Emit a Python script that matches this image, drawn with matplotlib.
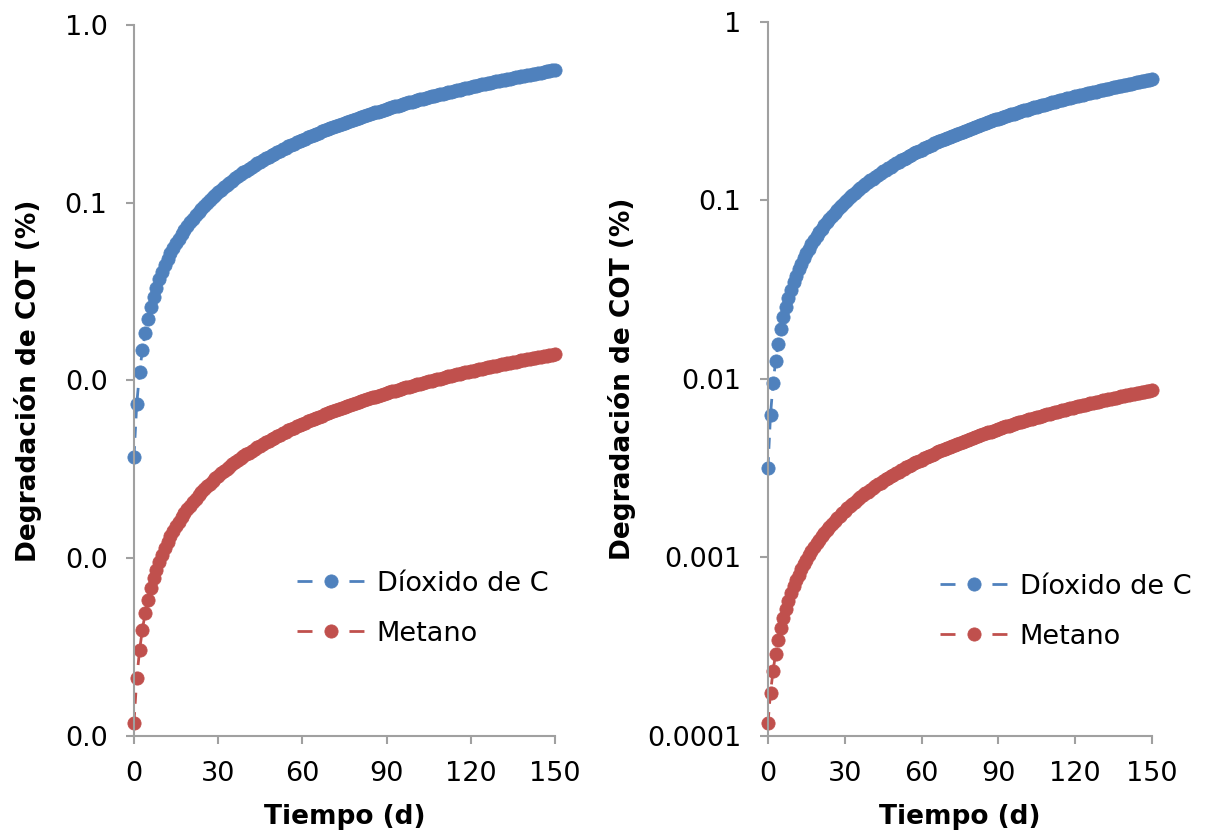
import matplotlib
matplotlib.use("Agg")
import matplotlib.pyplot as plt

plt.rcParams['font.family'] = ['DejaVu Sans']

# Part 1. DATA
# one point per day (% COT)
dias = list(range(0, 151))

# left panel
dioxido_izq = [
    0.0037, 0.0074, 0.0111, 0.0148, 0.0185, 0.0222, 0.0259, 0.0296, 0.0333, 0.0370,
    0.0407, 0.0444, 0.0481, 0.0518, 0.0555, 0.0592, 0.0629, 0.0666, 0.0703, 0.0740,
    0.0777, 0.0814, 0.0851, 0.0888, 0.0925, 0.0962, 0.0999, 0.1036, 0.1073, 0.1110,
    0.1147, 0.1184, 0.1221, 0.1258, 0.1295, 0.1332, 0.1369, 0.1406, 0.1443, 0.1480,
    0.1517, 0.1554, 0.1591, 0.1628, 0.1665, 0.1702, 0.1739, 0.1776, 0.1813, 0.1850,
    0.1887, 0.1924, 0.1961, 0.1998, 0.2035, 0.2072, 0.2109, 0.2146, 0.2183, 0.2220,
    0.2257, 0.2294, 0.2331, 0.2368, 0.2405, 0.2442, 0.2479, 0.2516, 0.2553, 0.2590,
    0.2627, 0.2664, 0.2701, 0.2738, 0.2775, 0.2812, 0.2849, 0.2886, 0.2923, 0.2960,
    0.2997, 0.3034, 0.3071, 0.3108, 0.3145, 0.3182, 0.3219, 0.3256, 0.3293, 0.3330,
    0.3367, 0.3404, 0.3441, 0.3478, 0.3515, 0.3552, 0.3589, 0.3626, 0.3663, 0.3700,
    0.3737, 0.3774, 0.3811, 0.3848, 0.3885, 0.3922, 0.3959, 0.3996, 0.4033, 0.4070,
    0.4107, 0.4144, 0.4181, 0.4218, 0.4255, 0.4292, 0.4329, 0.4366, 0.4403, 0.4440,
    0.4477, 0.4514, 0.4551, 0.4588, 0.4625, 0.4662, 0.4699, 0.4736, 0.4773, 0.4810,
    0.4847, 0.4884, 0.4921, 0.4958, 0.4995, 0.5032, 0.5069, 0.5106, 0.5143, 0.5180,
    0.5217, 0.5254, 0.5291, 0.5328, 0.5365, 0.5402, 0.5439, 0.5476, 0.5513, 0.5550,
    0.5587]

metano_izq = [
    0.000118, 0.000211, 0.000304, 0.000397, 0.000490, 0.000583, 0.000676, 0.000769, 0.000862, 0.000955,
    0.001048, 0.001141, 0.001234, 0.001327, 0.001420, 0.001513, 0.001606, 0.001699, 0.001792, 0.001885,
    0.001978, 0.002071, 0.002164, 0.002257, 0.002350, 0.002443, 0.002536, 0.002629, 0.002722, 0.002815,
    0.002908, 0.003001, 0.003094, 0.003187, 0.003280, 0.003373, 0.003466, 0.003559, 0.003652, 0.003745,
    0.003838, 0.003931, 0.004024, 0.004117, 0.004210, 0.004303, 0.004396, 0.004489, 0.004582, 0.004675,
    0.004768, 0.004861, 0.004954, 0.005047, 0.005140, 0.005233, 0.005326, 0.005419, 0.005512, 0.005605,
    0.005698, 0.005791, 0.005884, 0.005977, 0.006070, 0.006163, 0.006256, 0.006349, 0.006442, 0.006535,
    0.006628, 0.006721, 0.006814, 0.006907, 0.007000, 0.007093, 0.007186, 0.007279, 0.007372, 0.007465,
    0.007558, 0.007651, 0.007744, 0.007837, 0.007930, 0.008023, 0.008116, 0.008209, 0.008302, 0.008395,
    0.008488, 0.008581, 0.008674, 0.008767, 0.008860, 0.008953, 0.009046, 0.009139, 0.009232, 0.009325,
    0.009418, 0.009511, 0.009604, 0.009697, 0.009790, 0.009883, 0.009976, 0.010069, 0.010162, 0.010255,
    0.010348, 0.010441, 0.010534, 0.010627, 0.010720, 0.010813, 0.010906, 0.010999, 0.011092, 0.011185,
    0.011278, 0.011371, 0.011464, 0.011557, 0.011650, 0.011743, 0.011836, 0.011929, 0.012022, 0.012115,
    0.012208, 0.012301, 0.012394, 0.012487, 0.012580, 0.012673, 0.012766, 0.012859, 0.012952, 0.013045,
    0.013138, 0.013231, 0.013324, 0.013417, 0.013510, 0.013603, 0.013696, 0.013789, 0.013882, 0.013975,
    0.014068]

# right panel
dioxido_der = [
    0.00316, 0.00632, 0.00948, 0.01264, 0.01580, 0.01896, 0.02212, 0.02528, 0.02844, 0.03160,
    0.03476, 0.03792, 0.04108, 0.04424, 0.04740, 0.05056, 0.05372, 0.05688, 0.06004, 0.06320,
    0.06636, 0.06952, 0.07268, 0.07584, 0.07900, 0.08216, 0.08532, 0.08848, 0.09164, 0.09480,
    0.09796, 0.10112, 0.10428, 0.10744, 0.11060, 0.11376, 0.11692, 0.12008, 0.12324, 0.12640,
    0.12956, 0.13272, 0.13588, 0.13904, 0.14220, 0.14536, 0.14852, 0.15168, 0.15484, 0.15800,
    0.16116, 0.16432, 0.16748, 0.17064, 0.17380, 0.17696, 0.18012, 0.18328, 0.18644, 0.18960,
    0.19276, 0.19592, 0.19908, 0.20224, 0.20540, 0.20856, 0.21172, 0.21488, 0.21804, 0.22120,
    0.22436, 0.22752, 0.23068, 0.23384, 0.23700, 0.24016, 0.24332, 0.24648, 0.24964, 0.25280,
    0.25596, 0.25912, 0.26228, 0.26544, 0.26860, 0.27176, 0.27492, 0.27808, 0.28124, 0.28440,
    0.28756, 0.29072, 0.29388, 0.29704, 0.30020, 0.30336, 0.30652, 0.30968, 0.31284, 0.31600,
    0.31916, 0.32232, 0.32548, 0.32864, 0.33180, 0.33496, 0.33812, 0.34128, 0.34444, 0.34760,
    0.35076, 0.35392, 0.35708, 0.36024, 0.36340, 0.36656, 0.36972, 0.37288, 0.37604, 0.37920,
    0.38236, 0.38552, 0.38868, 0.39184, 0.39500, 0.39816, 0.40132, 0.40448, 0.40764, 0.41080,
    0.41396, 0.41712, 0.42028, 0.42344, 0.42660, 0.42976, 0.43292, 0.43608, 0.43924, 0.44240,
    0.44556, 0.44872, 0.45188, 0.45504, 0.45820, 0.46136, 0.46452, 0.46768, 0.47084, 0.47400,
    0.47716]

metano_der = [
    0.000118, 0.000175, 0.000232, 0.000289, 0.000346, 0.000403, 0.000460, 0.000517, 0.000574, 0.000631,
    0.000688, 0.000745, 0.000802, 0.000859, 0.000916, 0.000973, 0.001030, 0.001087, 0.001144, 0.001201,
    0.001258, 0.001315, 0.001372, 0.001429, 0.001486, 0.001543, 0.001600, 0.001657, 0.001714, 0.001771,
    0.001828, 0.001885, 0.001942, 0.001999, 0.002056, 0.002113, 0.002170, 0.002227, 0.002284, 0.002341,
    0.002398, 0.002455, 0.002512, 0.002569, 0.002626, 0.002683, 0.002740, 0.002797, 0.002854, 0.002911,
    0.002968, 0.003025, 0.003082, 0.003139, 0.003196, 0.003253, 0.003310, 0.003367, 0.003424, 0.003481,
    0.003538, 0.003595, 0.003652, 0.003709, 0.003766, 0.003823, 0.003880, 0.003937, 0.003994, 0.004051,
    0.004108, 0.004165, 0.004222, 0.004279, 0.004336, 0.004393, 0.004450, 0.004507, 0.004564, 0.004621,
    0.004678, 0.004735, 0.004792, 0.004849, 0.004906, 0.004963, 0.005020, 0.005077, 0.005134, 0.005191,
    0.005248, 0.005305, 0.005362, 0.005419, 0.005476, 0.005533, 0.005590, 0.005647, 0.005704, 0.005761,
    0.005818, 0.005875, 0.005932, 0.005989, 0.006046, 0.006103, 0.006160, 0.006217, 0.006274, 0.006331,
    0.006388, 0.006445, 0.006502, 0.006559, 0.006616, 0.006673, 0.006730, 0.006787, 0.006844, 0.006901,
    0.006958, 0.007015, 0.007072, 0.007129, 0.007186, 0.007243, 0.007300, 0.007357, 0.007414, 0.007471,
    0.007528, 0.007585, 0.007642, 0.007699, 0.007756, 0.007813, 0.007870, 0.007927, 0.007984, 0.008041,
    0.008098, 0.008155, 0.008212, 0.008269, 0.008326, 0.008383, 0.008440, 0.008497, 0.008554, 0.008611,
    0.008668]

series_names = ["Díoxido de C", "Metano"]
x_ticks = [0, 30, 60, 90, 120, 150]
y_ticks = [0.0001, 0.001, 0.01, 0.1, 1]
y_labels_izq = ["0.0", "0.0", "0.0", "0.1", "1.0"]
y_labels_der = ["0.0001", "0.001", "0.01", "0.1", "1"]

azul = "#4F81BD"
rojo = "#C0504D"
gris = "#A0A0A0"

# Part 2. FIGURE
fig = plt.figure(figsize=(12.09, 8.35), dpi=100)
ax1 = fig.add_axes([0.1108, 0.1186, 0.3483, 0.8515])
ax2 = fig.add_axes([0.6352, 0.1186, 0.3176, 0.8551])

panels = [
    (ax1, dioxido_izq, metano_izq, y_labels_izq, (0.387, 0.179), -0.2515),
    (ax2, dioxido_der, metano_der, y_labels_der, (0.448, 0.174), -0.380),
]

for ax, dio, met, ylab, leg_pos, ylab_x in panels:
    ax.plot(dias, dio, color=azul, lw=2, dashes=(4, 3), marker='o', ms=9.5,
            mfc=azul, mec=azul, mew=0.6, label=series_names[0])
    ax.plot(dias, met, color=rojo, lw=2, dashes=(4, 3), marker='o', ms=9.5,
            mfc=rojo, mec=rojo, mew=0.6, label=series_names[1])

    ax.set_yscale('log')
    ax.set_xlim(0, 150)
    ax.set_ylim(0.0001, 1)
    ax.set_xticks(x_ticks)
    ax.set_yticks(y_ticks)
    ax.set_yticklabels(ylab)
    ax.minorticks_off()
    for line in ax.get_lines():
        line.set_clip_on(False)

    for s in ['top', 'right']:
        ax.spines[s].set_visible(False)
    for s in ['left', 'bottom']:
        ax.spines[s].set_color(gris)
        ax.spines[s].set_linewidth(1.5)
    ax.tick_params(axis='both', direction='out', length=6, width=1.5,
                   color=gris, labelsize=19.5, labelcolor='black')
    ax.tick_params(axis='y', pad=13)
    ax.tick_params(axis='x', pad=12)

    ax.set_xlabel("Tiempo (d)", fontsize=19, fontweight='bold', va='center')
    ax.xaxis.set_label_coords(0.5, -0.114)
    ax.set_ylabel("Degradación de COT (%)", fontsize=19, fontweight='bold', va='center')
    ax.yaxis.set_label_coords(ylab_x, 0.5)

    leg = ax.legend(loc='center left', bbox_to_anchor=leg_pos, frameon=False,
                    fontsize=19.5, handlelength=2.5, handletextpad=0.45,
                    labelspacing=0.9, borderpad=0, borderaxespad=0, numpoints=1)
    for line in leg.get_lines():
        line.set_dashes((5.4, 13.3))

fig.savefig("out.png", dpi=100)
